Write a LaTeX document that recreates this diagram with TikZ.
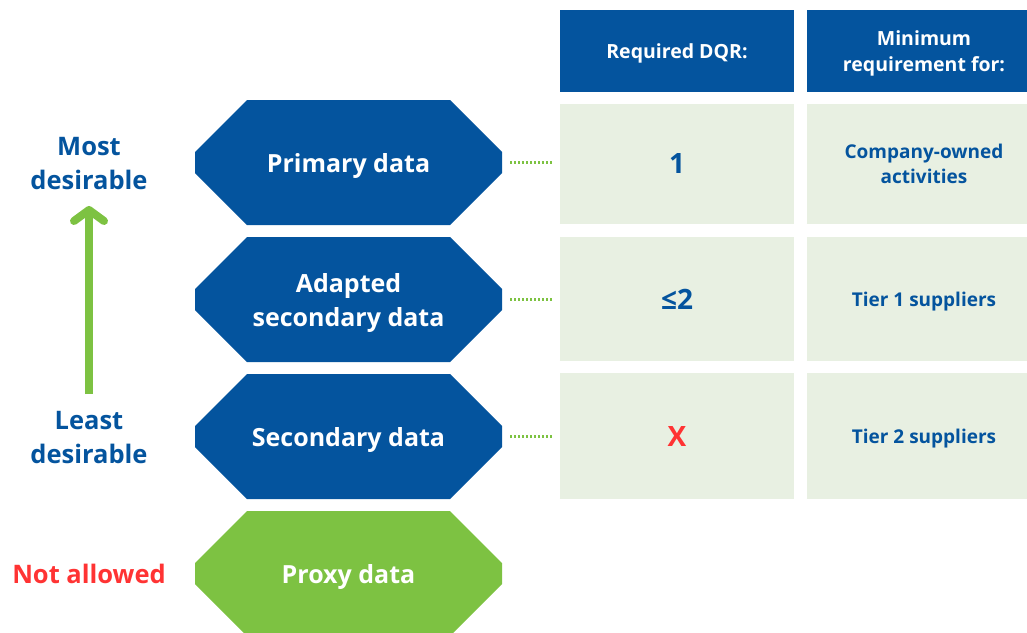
\documentclass[tikz,border=0pt]{standalone}
\usepackage{fontspec}
\setmainfont{Open Sans}
\usetikzlibrary{calc,arrows.meta}
\definecolor{dqrblue}{HTML}{04549E}
\definecolor{dqrgreen}{HTML}{7DC242}
\definecolor{cellgreen}{HTML}{E8F0E2}
\definecolor{dqrred}{HTML}{FF3333}
\begin{document}
\begin{tikzpicture}[x=1pt,y=-1pt,
  hexbox/.style={minimum width=307pt, minimum height=125pt, inner sep=0pt, text depth=0pt,
    text=white, font=\bfseries\fontsize{25}{34}\selectfont, align=center,
    path picture={\fill[#1]
      ($(path picture bounding box.north west)+(52pt,0)$) --
      ($(path picture bounding box.north east)+(-52pt,0)$) --
      ($(path picture bounding box.north east)+(0,-52pt)$) --
      ($(path picture bounding box.south east)+(0,52pt)$) --
      ($(path picture bounding box.south east)+(-52pt,0)$) --
      ($(path picture bounding box.south west)+(52pt,0)$) --
      ($(path picture bounding box.south west)+(0,52pt)$) --
      ($(path picture bounding box.north west)+(0,-52pt)$) -- cycle;}},
  headcell/.style={fill=dqrblue, minimum width=234pt, minimum height=82pt, inner sep=0pt,
    text depth=0pt, text=white, font=\bfseries\fontsize{19.5}{26}\selectfont, align=center},
  bodycell/.style={fill=cellgreen, minimum width=234pt, minimum height=#1, inner sep=0pt,
    text depth=0pt, text=dqrblue, font=\bfseries\fontsize{19}{25}\selectfont, align=center,
    append after command={\pgfextra{\draw[black!25, line width=1pt]
      ($(\tikzlastnode.south west)+(0,0.5pt)$) -- ($(\tikzlastnode.south east)+(0,0.5pt)$);}}},
  sidelabel/.style={font=\bfseries\fontsize{25.5}{34}\selectfont, align=center, text=dqrblue},
  dotlink/.style={draw=dqrgreen, line width=2.5pt, dash pattern=on 2pt off 2pt}
]
\useasboundingbox (0,0) rectangle (1027,632);

% data-type hexagons
\node[hexbox=dqrblue]  (primary)   at (348.5,162.5) {Primary data};
\node[hexbox=dqrblue]  (adapted)   at (348.5,299.5) {Adapted\\secondary data};
\node[hexbox=dqrblue]  (secondary) at (348.5,436.5) {Secondary data};
\node[hexbox=dqrgreen] (proxy)     at (348.5,573.5) {Proxy data};

% table header
\node[headcell] (hdqr) at (677,51) {Required DQR:};
\node[headcell] (hmin) at (924,51) {Minimum\\requirement for:};

% table rows
\node[bodycell=120pt] (dqr1) at (677,164) {\fontsize{28}{30}\selectfont 1};
\node[bodycell=120pt] (min1) at (924,164) {Company-owned\\activities};
\node[bodycell=124pt] (dqr2) at (677,299) {\fontsize{28}{30}\selectfont ≤2};
\node[bodycell=124pt] (min2) at (924,299) {Tier 1 suppliers};
\node[bodycell=126pt] (dqr3) at (677,436) {\fontsize{28}{30}\selectfont\color{dqrred}X};
\node[bodycell=126pt] (min3) at (924,436) {Tier 2 suppliers};

% dotted links from hexagons to rows
\draw[dotlink] ($(primary.east)+(8pt,0)$)   -- ($(dqr1.west |- primary.east)+(-8pt,0)$);
\draw[dotlink] ($(adapted.east)+(8pt,0)$)   -- ($(dqr2.west |- adapted.east)+(-8pt,0)$);
\draw[dotlink] ($(secondary.east)+(8pt,0)$) -- ($(dqr3.west |- secondary.east)+(-8pt,0)$);

% desirability scale
\node[sidelabel] (most)  at (89,164) {Most\\desirable};
\node[sidelabel] (least) at (89,438) {Least\\desirable};
\node[sidelabel, text=dqrred] (notallowed) at (89,574) {Not allowed};
\coordinate (arrowbase) at (89,394);
\coordinate (arrowtip) at (89,206);
\draw[dqrgreen, line width=8pt,
  -{Straight Barb[round, length=11pt, width=30pt, line width=8pt]}]
  (arrowbase) -- (arrowtip);
\end{tikzpicture}
\end{document}
